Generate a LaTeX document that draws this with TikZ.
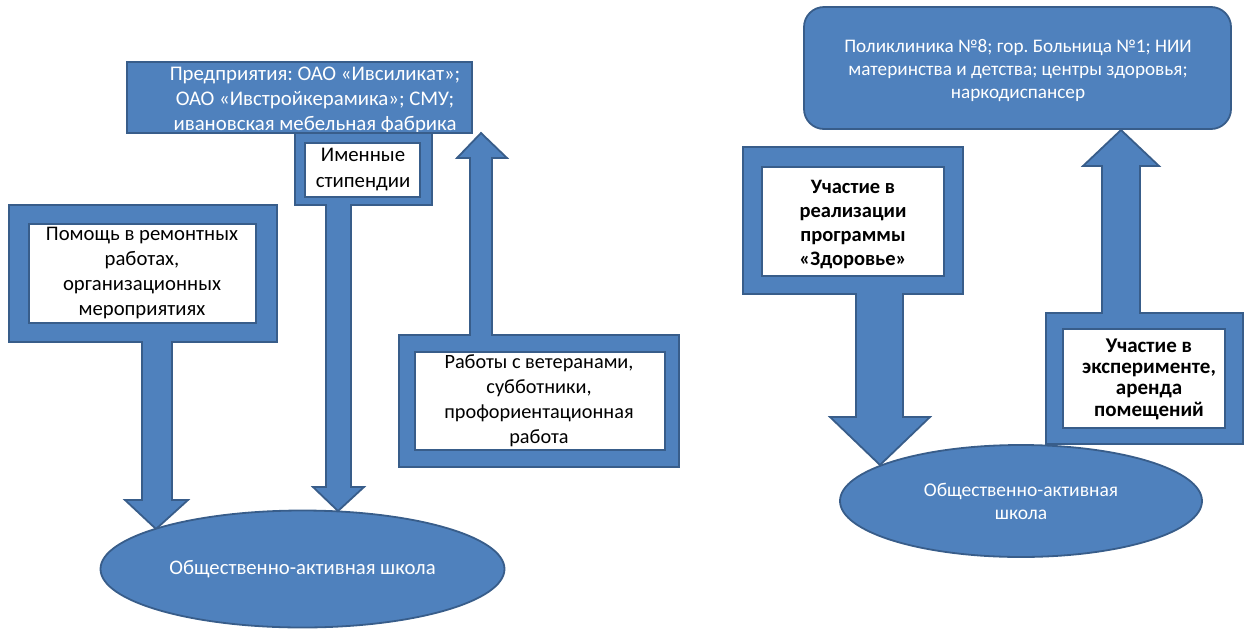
\documentclass[tikz,border=0pt]{standalone}
\usepackage{fontspec}
\setmainfont{Carlito}
\usetikzlibrary{shapes.geometric}
\definecolor{bfill}{HTML}{4F81BD}
\definecolor{bline}{HTML}{385D8A}
\begin{document}
\frenchspacing
\begin{tikzpicture}[x=1pt,y=-1pt,
  shp/.style={fill=bfill,draw=bline,line width=1.8pt,line join=miter},
  innerbox/.style={fill=white,draw=bline,line width=1.5pt},
  wtxt/.style={text=white,align=center,font=\fontsize{20.8}{25}\selectfont,inner sep=0pt},
  btxt/.style={text=black,align=center,font=\fontsize{20.7}{25}\selectfont,inner sep=0pt},
  bbtxt/.style={text=black,align=center,font=\fontsize{20.5}{24}\selectfont\bfseries,inner sep=0pt},
  ell/.style={ellipse,fill=bfill,draw=bline,line width=1.8pt,inner sep=0pt,text=white,align=center},
]
\useasboundingbox (0,0) rectangle (1254,630);

% ---------- left part ----------
% top box
\draw[shp] (127,62) rectangle (472,133);
\node[wtxt] (ent) at (315,100) {Предприятия: ОАО «Ивсиликат»;\\ОАО «Ивстройкерамика»; СМУ;\\ивановская мебельная фабрика};

% callout: Помощь
\draw[shp] (9,205) -- (277,205) -- (277,342) -- (172,342) -- (172,500) -- (188,500)
  -- (156,529) -- (125,500) -- (142,500) -- (142,342) -- (9,342) -- cycle;
\draw[innerbox] (29,224) rectangle (256,323);
\node[btxt] (help) at (142,273) {Помощь в ремонтных\\работах,\\организационных\\мероприятиях};

% callout: Именные стипендии
\draw[shp] (295,133) -- (432,133) -- (432,205) -- (351,205) -- (351,487) -- (364,487)
  -- (338,511) -- (313,487) -- (326,487) -- (326,205) -- (295,205) -- cycle;
\draw[innerbox] (305,143) rectangle (420,197);
\node[btxt,font=\fontsize{20.8}{26}\selectfont] (stip) at (363,170) {Именные\\стипендии};

% callout: Работы с ветеранами (up)
\draw[shp] (399,335) -- (470,335) -- (470,158) -- (457,158) -- (481,133) -- (507,158)
  -- (492,158) -- (492,335) -- (679,335) -- (679,467) -- (399,467) -- cycle;
\draw[innerbox] (415,352) rectangle (665,450);
\node[btxt,font=\fontsize{20.3}{25}\selectfont] (vet) at (539,401) {Работы с ветеранами,\\субботники,\\профориентационная\\работа};

% ellipse left
\node[ell,minimum width=404pt,minimum height=117pt,font=\fontsize{20.7}{25}\selectfont] (school1) at (302.5,569) {Общественно-активная школа};

% ---------- right part ----------
\draw[shp,rounded corners=20pt] (804,7) rectangle (1231,129);
\node[wtxt,font=\fontsize{19.2}{23}\selectfont] (clin) at (1018,71) {Поликлиника №8; гор. Больница №1; НИИ\\материнства и детства; центры здоровья;\\наркодиспансер};

% callout: Участие в реализации (down)
\draw[shp] (743,147) -- (963,147) -- (963,294) -- (903,294) -- (903,417) -- (930,417)
  -- (880,465) -- (830,417) -- (856,417) -- (856,294) -- (743,294) -- cycle;
\draw[innerbox] (762,167) rectangle (944,276);
\node[bbtxt] (health) at (853,224) {Участие в\\реализации\\программы\\«Здоровье»};

% ellipse right
\node[ell,minimum width=362pt,minimum height=112pt,font=\fontsize{19.5}{23}\selectfont] (school2) at (1021,501) {Общественно-активная\\школа};

% callout: Участие в эксперименте (up)
\draw[shp] (1046,313) -- (1102,313) -- (1102,166) -- (1083,166) -- (1121,130) -- (1159,166)
  -- (1140,166) -- (1140,313) -- (1243,313) -- (1243,444) -- (1046,444) -- cycle;
\draw[innerbox] (1063,329) rectangle (1225,428);
\node[bbtxt,font=\fontsize{21}{21.3}\selectfont\bfseries] (exp) at (1149,379) {Участие в\\эксперименте,\\аренда\\помещений};
\end{tikzpicture}
\end{document}
